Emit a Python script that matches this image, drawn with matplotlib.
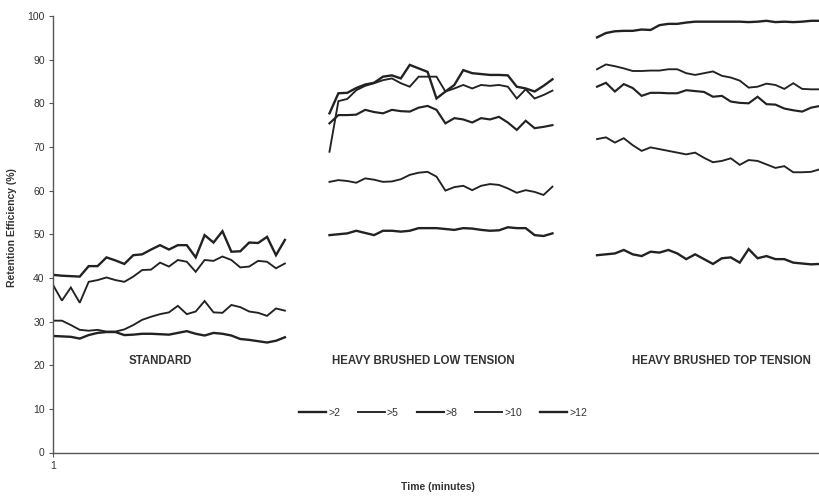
import numpy as np
import matplotlib
matplotlib.use("Agg")
import matplotlib.pyplot as plt

plt.rcParams['font.family'] = ['Liberation Sans', 'DejaVu Sans']

# Minute positions of each trial on the shared category axis
minutes_standard = list(range(1, 28))
minutes_low = list(range(32, 58))
minutes_top = list(range(62, 88))

size_labels = [">2", ">5", ">8", ">10", ">12"]
group_labels = ["STANDARD", "HEAVY BRUSHED LOW TENSION", "HEAVY BRUSHED TOP TENSION"]

# STANDARD
standard_gt2 = [26.7, 26.6, 26.5, 26.1, 26.9, 27.4, 27.6, 27.6, 26.9, 27.0, 27.2, 27.2, 27.1, 27.0,
                27.4, 27.8, 27.2, 26.8, 27.4, 27.2, 26.8, 26.0, 25.8, 25.5, 25.2, 25.6, 26.4]
standard_gt5 = [30.2, 30.2, 29.2, 28.1, 27.9, 28.1, 27.7, 27.7, 28.2, 29.2, 30.4, 31.1, 31.7, 32.1,
                33.6, 31.7, 32.3, 34.7, 32.1, 32.0, 33.8, 33.3, 32.3, 32.0, 31.3, 33.0, 32.5]
standard_gt10 = [38.4, 34.8, 37.8, 34.3, 39.1, 39.5, 40.1, 39.5, 39.1, 40.3, 41.8, 41.9, 43.5, 42.6,
                 44.1, 43.7, 41.4, 44.1, 43.9, 44.9, 44.1, 42.4, 42.6, 43.9, 43.7, 42.2, 43.3]
standard_gt12 = [40.7, 40.5, 40.4, 40.3, 42.7, 42.7, 44.7, 44.0, 43.2, 45.2, 45.4, 46.5, 47.5, 46.5,
                 47.5, 47.5, 44.7, 49.8, 48.1, 50.7, 46.0, 46.1, 48.1, 48.0, 49.4, 45.2, 48.7]

# HEAVY BRUSHED LOW TENSION
low_gt2 = [49.8, 50.0, 50.2, 50.8, 50.3, 49.8, 50.8, 50.8, 50.6, 50.8, 51.4, 51.4, 51.4,
           51.2, 51.0, 51.4, 51.3, 51.0, 50.8, 50.9, 51.6, 51.4, 51.4, 49.8, 49.6, 50.2]
low_gt5 = [62.0, 62.4, 62.2, 61.8, 62.8, 62.5, 62.0, 62.1, 62.6, 63.6, 64.1, 64.3, 63.2,
           60.0, 60.8, 61.1, 60.1, 61.1, 61.5, 61.3, 60.5, 59.5, 60.1, 59.7, 59.0, 60.9]
low_gt8 = [75.4, 77.3, 77.3, 77.4, 78.5, 78.0, 77.7, 78.5, 78.2, 78.1, 79.0, 79.4, 78.5,
           75.4, 76.6, 76.3, 75.6, 76.6, 76.3, 76.9, 75.6, 73.9, 76.0, 74.3, 74.6, 75.0]
low_gt10 = [68.9, 80.5, 81.0, 83.0, 84.0, 84.6, 85.3, 85.7, 84.6, 83.8, 86.1, 86.1, 86.1,
            82.7, 83.4, 84.2, 83.4, 84.2, 84.0, 84.2, 83.8, 81.1, 83.2, 81.1, 81.9, 82.9]
low_gt12 = [77.7, 82.3, 82.4, 83.5, 84.3, 84.7, 86.1, 86.4, 85.7, 88.8, 88.0, 87.2, 81.1,
            82.7, 84.2, 87.6, 86.9, 86.7, 86.5, 86.5, 86.4, 83.8, 83.4, 82.7, 84.0, 85.5]

# HEAVY BRUSHED TOP TENSION
top_gt2 = [45.2, 45.4, 45.6, 46.4, 45.4, 45.0, 46.0, 45.8, 46.4, 45.6, 44.3, 45.4, 44.3,
           43.2, 44.5, 44.7, 43.5, 46.6, 44.5, 45.0, 44.3, 44.3, 43.5, 43.3, 43.1, 43.2]
top_gt5 = [71.8, 72.2, 71.0, 72.0, 70.4, 69.1, 69.9, 69.5, 69.1, 68.7, 68.3, 68.7, 67.5,
           66.5, 66.8, 67.4, 65.9, 67.0, 66.8, 66.0, 65.2, 65.6, 64.2, 64.2, 64.3, 64.9]
top_gt8 = [83.8, 84.7, 82.7, 84.4, 83.5, 81.7, 82.4, 82.4, 82.3, 82.3, 83.0, 82.8, 82.6,
           81.5, 81.7, 80.4, 80.1, 80.0, 81.5, 79.8, 79.7, 78.8, 78.4, 78.1, 79.0, 79.4]
top_gt10 = [87.8, 88.9, 88.5, 88.0, 87.4, 87.4, 87.5, 87.5, 87.8, 87.8, 86.9, 86.5, 86.9,
            87.3, 86.3, 85.9, 85.2, 83.6, 83.8, 84.5, 84.2, 83.3, 84.6, 83.3, 83.2, 83.2]
top_gt12 = [95.1, 96.1, 96.5, 96.6, 96.6, 96.9, 96.8, 97.9, 98.2, 98.2, 98.5, 98.7, 98.7,
            98.7, 98.7, 98.7, 98.7, 98.6, 98.7, 98.9, 98.6, 98.7, 98.6, 98.7, 98.9, 98.9]

groups = [
    (minutes_standard, {">2": standard_gt2, ">5": standard_gt5,
                        ">10": standard_gt10, ">12": standard_gt12}),
    (minutes_low, {">2": low_gt2, ">5": low_gt5, ">8": low_gt8,
                   ">10": low_gt10, ">12": low_gt12}),
    (minutes_top, {">2": top_gt2, ">5": top_gt5, ">8": top_gt8,
                   ">10": top_gt10, ">12": top_gt12}),
]

line_color = "#222222"
text_color = "#333333"
widths = {">2": 1.7, ">5": 1.35, ">8": 1.55, ">10": 1.35, ">12": 1.7}

fig = plt.figure(figsize=(8.2, 4.96), dpi=100)
ax = fig.add_axes([53 / 820, 1 - 452.5 / 496, 1 - 53 / 820, (452.5 - 16) / 496])

handles = {}
for minutes, series in groups:
    for label in size_labels:
        if label not in series:
            continue
        (ln,) = ax.plot(minutes, series[label], color=line_color, lw=widths[label],
                        solid_joinstyle="miter", label=label)
        handles[label] = ln

ax.set_xlim(1, 87)
ax.set_ylim(0, 100)
ax.set_yticks(np.arange(0, 101, 10))
ax.set_xticks([1])
ax.set_xticklabels(["1"])

for side in ("top", "right"):
    ax.spines[side].set_visible(False)
for side in ("left", "bottom"):
    ax.spines[side].set_color("#555555")
    ax.spines[side].set_linewidth(1.0)
ax.tick_params(axis="both", direction="out", length=3, width=0.8, color="#555555",
               labelsize=7.5, labelcolor=text_color, pad=3)

# Condition labels under each group of curves
label_y = 21
label_x = [13, 42.5, 76]
for x, name in zip(label_x, group_labels):
    ax.text(x, label_y, name, ha="center", va="center",
            fontsize=8.3, fontweight="bold", color=text_color)

leg = ax.legend([handles[k] for k in size_labels], size_labels, loc="center",
                bbox_to_anchor=(443 / 820, 1 - 413 / 496), bbox_transform=fig.transFigure,
                ncol=5, frameon=False, fontsize=7.5,
                handlelength=2.6, handletextpad=0.2, columnspacing=1.7)
for t in leg.get_texts():
    t.set_color(text_color)

fig.text(12 / 820, 1 - 228 / 496, "Retention Efficiency (%)", rotation=90,
         ha="center", va="center", fontsize=7.5, fontweight="bold", color=text_color)
fig.text(438 / 820, 1 - 487 / 496, "Time (minutes)", ha="center", va="center",
         fontsize=7.5, fontweight="bold", color=text_color)

fig.savefig("out.png", dpi=100)
